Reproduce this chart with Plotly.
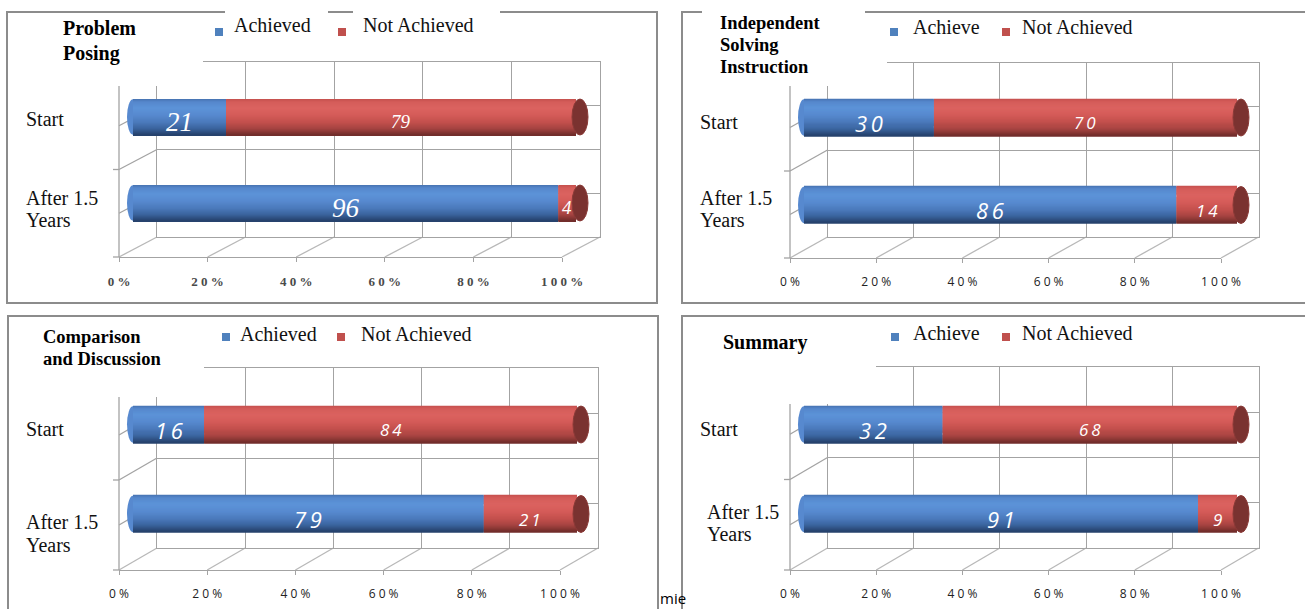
import plotly.graph_objects as go

FIG_W, FIG_H = 1305, 609

# ---- data: percent of students per stage ----
categories = ["Start", "After 1.5 Years"]
category_labels = ["Start", "After 1.5<br>Years"]
tick_values = [0, 20, 40, 60, 80, 100]
tick_labels = ["0%", "20%", "40%", "60%", "80%", "100%"]

panel_titles = ["Problem<br>Posing",
                "Independent<br>Solving<br>Instruction",
                "Comparison<br>and Discussion",
                "Summary"]
achieved_names = ["Achieved", "Achieve", "Achieved", "Achieve"]
not_achieved_names = ["Not Achieved", "Not Achieved", "Not Achieved", "Not Achieved"]

problem_posing_achieved = [21, 96]
problem_posing_not_achieved = [79, 4]
independent_solving_achieved = [30, 86]
independent_solving_not_achieved = [70, 14]
comparison_achieved = [16, 79]
comparison_not_achieved = [84, 21]
summary_achieved = [32, 91]
summary_not_achieved = [68, 9]

achieved = [problem_posing_achieved, independent_solving_achieved,
            comparison_achieved, summary_achieved]
not_achieved = [problem_posing_not_achieved, independent_solving_not_achieved,
                comparison_not_achieved, summary_not_achieved]

# ---- panel geometry (pixels) ----
panels = [
    dict(fx0=119, fy=257, W=443, H=175, dx=38, dy=20,
         b0=133, b100=576, centers=(117, 203), bar_px=36,
         box=(7, 12, 657, 303),
         title_xy=(61, 40.5), title_size=20, title_gap=25,
         covers=[(50, 15, 203, 86)],
         legend=(215, 232, 338, 361, 25, 32),
         legend_covers=[(225, 5, 328, 40), (353, 5, 500, 40)],
         cat_x=(24, 24), cat_dy=(2, 6), cat_gap=22, style="serif"),
    dict(fx0=790, fy=258, W=431, H=174, dx=37.5, dy=21,
         b0=804, b100=1237, centers=(117.5, 205), bar_px=37,
         box=(682, 12, 1315, 303),
         title_xy=(718, 45), title_size=18.5, title_gap=22,
         covers=[(702, 4, 865, 60), (702, 40, 887, 86)],
         legend=(890, 911, 1002, 1020, 27, 32),
         legend_covers=[],
         cat_x=(698, 698), cat_dy=(4.5, 4), cat_gap=22, style="sans"),
    dict(fx0=119, fy=570, W=441, H=180, dx=38, dy=22,
         b0=133, b100=577, centers=(424.5, 514), bar_px=37,
         box=(8, 316, 658, 625),
         title_xy=(41, 348), title_size=18.5, title_gap=22,
         covers=[(30, 320, 204, 397)],
         legend=(222, 238, 337, 359, 334, 337),
         legend_covers=[],
         cat_x=(24, 24), cat_dy=(4.5, 19.5), cat_gap=23, style="sans"),
    dict(fx0=790, fy=570, W=431, H=181, dx=37.5, dy=22,
         b0=804, b100=1237, centers=(424.5, 514), bar_px=37,
         box=(682, 316, 1315, 625),
         title_xy=(721, 342), title_size=20, title_gap=22,
         covers=[(690, 320, 876, 404)],
         legend=(891, 911, 1002, 1020, 333, 337),
         legend_covers=[],
         cat_x=(698, 705), cat_dy=(4.5, 9), cat_gap=22, style="sans"),
]

BLUE = "#4f81bd"
RED = "#c0504d"
GRID = "#a3a3a3"
FLOOR = "#b8b8b8"
BORDER = "#8c8c8c"
SERIF = "Liberation Serif"

# vertical shading profile of the cylinders (top -> bottom)
blue_stops = [(0.0, "#4672b0"), (0.08, "#5587cc"), (0.25, "#5c93d8"), (0.45, "#5789cf"),
              (0.65, "#4a79ba"), (0.82, "#3a639d"), (1.0, "#243f69")]
red_stops = [(0.0, "#c4504d"), (0.08, "#d45c59"), (0.25, "#db625f"), (0.45, "#d45b58"),
             (0.65, "#c24f4c"), (0.82, "#a54341"), (1.0, "#6e2b29")]
N_STRIPS = 36


def hex_rgb(h):
    return tuple(int(h[i:i + 2], 16) for i in (1, 3, 5))


def shade(stops, t):
    for (t0, c0), (t1, c1) in zip(stops[:-1], stops[1:]):
        if t0 <= t <= t1:
            f = (t - t0) / (t1 - t0)
            a, b = hex_rgb(c0), hex_rgb(c1)
            return "rgb(%d,%d,%d)" % tuple(round(a[i] + (b[i] - a[i]) * f) for i in range(3))
    return stops[-1][1]


def px(x):
    return x / FIG_W


def py(y):
    return 1 - y / FIG_H


def spaced(s, sep=" "):
    return sep.join(str(s))


def ax_name(kind, i):
    return kind + "axis" + ("" if i == 1 else str(i))


def ax_ref(kind, i):
    return kind + ("" if i == 1 else str(i))


fig = go.Figure()
layout = {}
shapes = []
annotations = []

# back walls (1-4) first, then front floors (5-8), then bars (9-12)
for k, g in enumerate(panels):
    b = k + 1
    bx0 = g["fx0"] + g["dx"]
    by_bot = g["fy"] - g["dy"]
    by_top = by_bot - g["H"]
    layout[ax_name("x", b)] = dict(
        domain=[px(bx0), px(bx0 + g["W"])], range=[0, 100], anchor=ax_ref("y", b),
        tickvals=tick_values, showgrid=True, gridcolor=GRID, gridwidth=1.3,
        showticklabels=False, ticks="", showline=True, mirror=True,
        linecolor=GRID, linewidth=1.3, zeroline=False, fixedrange=True, automargin=False)
    layout[ax_name("y", b)] = dict(
        domain=[py(by_bot), py(by_top)], range=[0, 4], anchor=ax_ref("x", b),
        tickvals=[1, 2, 3], showgrid=True, gridcolor=GRID, gridwidth=1.3,
        showticklabels=False, ticks="", showline=True, mirror=True,
        linecolor=GRID, linewidth=1.3, zeroline=False, fixedrange=True, automargin=False)
    fig.add_trace(go.Scatter(x=[None], y=[None], xaxis=ax_ref("x", b), yaxis=ax_ref("y", b),
                             showlegend=False, hoverinfo="skip"))

for k, g in enumerate(panels):
    f = k + 5
    serif = g["style"] == "serif"
    tickfont = (dict(family=SERIF, size=13, color="#4a4a4a", weight="bold")
                if serif else dict(family="Open Sans", size=12, color="#222222"))
    layout[ax_name("x", f)] = dict(
        domain=[px(g["fx0"]), px(g["fx0"] + g["W"])], range=[0, 100], anchor=ax_ref("y", f),
        tickvals=tick_values, ticktext=[spaced(t) for t in tick_labels],
        ticks="outside", ticklen=4, tickcolor=GRID, tickwidth=1.3,
        showline=True, linecolor=GRID, linewidth=1.3, showgrid=False, zeroline=False,
        tickfont=tickfont, ticklabelstandoff=8, fixedrange=True, automargin=False)
    layout[ax_name("y", f)] = dict(
        domain=[py(g["fy"]), py(g["fy"] - g["H"])], range=[0, 1], anchor=ax_ref("x", f),
        visible=False, fixedrange=True, automargin=False)
    fig.add_trace(go.Scatter(x=[None], y=[None], xaxis=ax_ref("x", f), yaxis=ax_ref("y", f),
                             showlegend=False, hoverinfo="skip"))

    # floor and side-wall grid lines in perspective
    fx0, fy, W, H, dx, dy = g["fx0"], g["fy"], g["W"], g["H"], g["dx"], g["dy"]
    for i in range(6):
        x = fx0 + i * W / 5
        shapes.append(dict(type="line", xref="paper", yref="paper", layer="below",
                           x0=px(x), y0=py(fy), x1=px(x + dx), y1=py(fy - dy),
                           line=dict(color=FLOOR, width=1.3)))
    for j in range(1, 5):
        y = fy - j * H / 4
        shapes.append(dict(type="line", xref="paper", yref="paper", layer="below",
                           x0=px(fx0), y0=py(y), x1=px(fx0 + dx), y1=py(y - dy),
                           line=dict(color=GRID, width=1.3)))
    shapes.append(dict(type="line", xref="paper", yref="paper", layer="below",
                       x0=px(fx0), y0=py(fy), x1=px(fx0), y1=py(fy - H),
                       line=dict(color=GRID, width=1.3)))
    for j in range(2):
        y = fy - j * H / 2
        shapes.append(dict(type="line", xref="paper", yref="paper", layer="below",
                           x0=px(fx0 - 6), y0=py(y), x1=px(fx0), y1=py(y),
                           line=dict(color=GRID, width=1.3)))

for k, g in enumerate(panels):
    n = k + 9
    xr, yr = ax_ref("x", n), ax_ref("y", n)
    L = g["b100"] - g["b0"]
    unit = L / 100.0
    lo, hi = -4, 106
    c0, c1 = g["centers"]
    slot = c1 - c0
    w = g["bar_px"] / slot
    layout[ax_name("x", n)] = dict(
        domain=[px(g["b0"] + lo * unit), px(g["b0"] + hi * unit)], range=[lo, hi],
        anchor=yr, visible=False, fixedrange=True, automargin=False)
    layout[ax_name("y", n)] = dict(
        domain=[py(c1 + slot / 2), py(c0 - slot / 2)], range=[1.5, -0.5],
        anchor=xr, visible=False, fixedrange=True, automargin=False)

    a_vals = achieved[k]
    n_vals = not_achieved[k]
    ypos = list(range(len(categories)))
    totals = [a + b for a, b in zip(a_vals, n_vals)]

    # rounded near end of each cylinder, tucked under the bar body
    for yi in ypos:
        shapes.append(dict(type="circle", xref=xr, yref=yr, layer="below",
                           x0=-6 / unit, x1=6 / unit, y0=yi - w / 2 + 0.004, y1=yi + w / 2 - 0.004,
                           fillcolor=shade(blue_stops, 0.45), line=dict(width=0)))

    for s in range(N_STRIPS):
        t = (s + 0.5) / N_STRIPS
        off = -w / 2 + s * w / N_STRIPS
        for vals, base, stops, nm in ((a_vals, [0] * len(a_vals), blue_stops, achieved_names[k]),
                                      (n_vals, a_vals, red_stops, not_achieved_names[k])):
            fig.add_trace(go.Bar(
                x=vals, y=ypos, base=base, orientation="h", name=nm,
                width=w / N_STRIPS * 1.3, offset=off,
                marker=dict(color=shade(stops, t), line=dict(width=0)),
                xaxis=xr, yaxis=yr, showlegend=False, hoverinfo="skip"))

    # elliptical far faces of the cylinders
    for yi, tot in zip(ypos, totals):
        shapes.append(dict(type="circle", xref=xr, yref=yr, layer="above",
                           x0=tot + (4 - 8) / unit, x1=tot + (4 + 8) / unit,
                           y0=yi - w / 2, y1=yi + w / 2,
                           fillcolor="#7a3230", line=dict(color="#8a3a37", width=1)))

    # value labels
    serif = g["style"] == "serif"
    for yi, a, b in zip(ypos, a_vals, n_vals):
        for val, base, big in ((a, 0, True), (b, a, False)):
            if serif:
                font = dict(family=SERIF, size=27 if big else 19,
                            color="white", style="italic")
                txt = str(val)
            else:
                font = dict(family="Open Sans", size=22 if big else 17,
                            color="white", style="italic")
                txt = spaced(val, "\u2009")
            annotations.append(dict(x=base + val / 2, y=yi, xref=xr, yref=yr, text=txt,
                                    showarrow=False, font=font, yshift=-5))

    # category labels, one annotation per text line
    for yi, lab, lx, ld in zip(ypos, category_labels, g["cat_x"], g["cat_dy"]):
        lines = lab.split("<br>")
        for li, line in enumerate(lines):
            shift = ld + (li - (len(lines) - 1) / 2) * g["cat_gap"]
            annotations.append(dict(x=px(lx), y=yi, xref="paper", yref=yr, text=line,
                                    xanchor="left", yanchor="middle", align="left",
                                    showarrow=False, yshift=-shift,
                                    font=dict(family=SERIF, size=20, color="#111111")))

# panel frames, then white patches behind titles / legend texts
for g in panels:
    x0, y0, x1, y1 = g["box"]
    shapes.append(dict(type="rect", xref="paper", yref="paper", layer="above",
                       x0=px(x0), y0=py(y1), x1=px(x1), y1=py(y0),
                       line=dict(color=BORDER, width=2), fillcolor="rgba(0,0,0,0)"))
for g in panels:
    for (x0, y0, x1, y1) in g["covers"] + g["legend_covers"]:
        shapes.append(dict(type="rect", xref="paper", yref="paper", layer="above",
                           x0=px(x0), y0=py(y1), x1=px(x1), y1=py(y0),
                           line=dict(width=0), fillcolor="white"))

for k, g in enumerate(panels):
    tx, ty = g["title_xy"]
    lines = panel_titles[k].split("<br>")
    for li, line in enumerate(lines):
        yy = ty + (li - (len(lines) - 1) / 2) * g["title_gap"]
        annotations.append(dict(x=px(tx), y=py(yy), xref="paper", yref="paper",
                                text="<b>%s</b>" % line, xanchor="left",
                                yanchor="middle", align="left", showarrow=False,
                                font=dict(family=SERIF, size=g["title_size"], color="black")))
    sq1, t1, sq2, t2, ty_txt, ty_sq = g["legend"]
    for sx, color in ((sq1, BLUE), (sq2, RED)):
        shapes.append(dict(type="rect", xref="paper", yref="paper", layer="above",
                           x0=px(sx), x1=px(sx + 8), y0=py(ty_sq + 4), y1=py(ty_sq - 4),
                           fillcolor=color, line=dict(width=0)))
    for tx_, name in ((t1, achieved_names[k]), (t2, not_achieved_names[k])):
        annotations.append(dict(x=px(tx_), y=py(ty_txt), xref="paper", yref="paper",
                                text=name, xanchor="left", yanchor="middle",
                                showarrow=False,
                                font=dict(family=SERIF, size=20, color="#111111")))

annotations.append(dict(x=px(658), y=py(598), xref="paper", yref="paper", text="mie",
                        xanchor="left", yanchor="middle", showarrow=False,
                        font=dict(family="Open Sans", size=15, color="black")))

fig.update_layout(
    width=FIG_W, height=FIG_H, autosize=False,
    margin=dict(l=0, r=0, t=0, b=0, pad=0, autoexpand=False),
    paper_bgcolor="white", plot_bgcolor="rgba(0,0,0,0)",
    barmode="overlay", showlegend=False,
    shapes=shapes, annotations=annotations, **layout)

fig.write_html("out.html", config={"responsive": False})
